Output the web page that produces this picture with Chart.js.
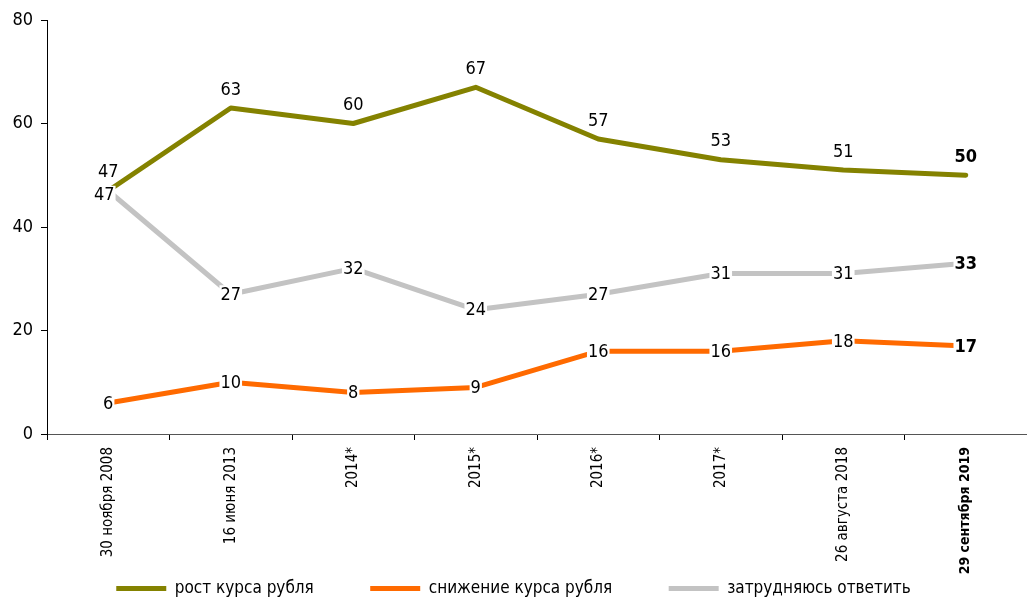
<!DOCTYPE html>
<html>
<head>
<meta charset="utf-8">
<script src="https://cdn.jsdelivr.net/npm/chart.js@4/dist/chart.umd.min.js"></script>
<style>
  html, body { margin: 0; padding: 0; background: #fff; }
  #wrap { width: 1027px; height: 600px; }
</style>
</head>
<body>
<div id="wrap"><canvas id="c" width="1027" height="600"></canvas></div>
<script>
// Данные
const categories = ['30 ноября 2008', '16 июня 2013', '2014*', '2015*', '2016*', '2017*', '26 августа 2018', '29 сентября 2019'];
const rostValues = [47, 63, 60, 67, 57, 53, 51, 50];
const snizhenieValues = [6, 10, 8, 9, 16, 16, 18, 17];
const zatrudnyayusValues = [47, 27, 32, 24, 27, 31, 31, 33];
const yTicks = [0, 20, 40, 60, 80];

const FONT = "'Liberation Sans Narrow', 'DejaVu Sans Condensed', 'Roboto', sans-serif";

// Подписи значений
const valueLabels = {
    id: 'valueLabels',
    afterDatasetsDraw(chart) {
        const ctx = chart.ctx;
        ctx.save();
        ctx.textAlign = 'center';
        ctx.textBaseline = 'middle';
        chart.data.datasets.forEach((ds, i) => {
            const meta = chart.getDatasetMeta(i);
            meta.data.forEach((pt, j) => {
                const last = j === ds.data.length - 1;
                ctx.font = (last ? 'bold ' : '') + '18px ' + FONT;
                const text = String(ds.data[j]);
                let x = pt.x, y = pt.y;
                if (ds.labelPos === 'above') {
                    y -= 19;
                } else {
                    if (j === 0 && i === 2) { x -= 4; y += 4; }
                    const w = ctx.measureText(text).width;
                    ctx.fillStyle = '#fff';
                    ctx.fillRect(x - w / 2 - 1, y - 9, w + 2, 18);
                }
                ctx.fillStyle = '#000';
                ctx.fillText(text, x, y + 1);
            });
        });
        ctx.restore();
    }
};

new Chart(document.getElementById('c'), {
    type: 'line',
    data: {
        labels: categories,
        datasets: [
            {
                label: 'рост курса рубля',
                data: rostValues,
                borderColor: '#848200',
                backgroundColor: '#848200',
                borderWidth: 5,
                labelPos: 'above'
            },
            {
                label: 'снижение курса рубля',
                data: snizhenieValues,
                borderColor: '#ff6a00',
                backgroundColor: '#ff6a00',
                borderWidth: 5,
                labelPos: 'center'
            },
            {
                label: 'затрудняюсь ответить',
                data: zatrudnyayusValues,
                borderColor: '#c3c3c3',
                backgroundColor: '#c3c3c3',
                borderWidth: 5,
                labelPos: 'center'
            }
        ]
    },
    options: {
        responsive: false,
        animation: false,
        layout: { padding: { top: 20, right: 0, left: 0, bottom: -7 } },
        elements: {
            point: { radius: 0, hoverRadius: 0 },
            line: { tension: 0, borderCapStyle: 'round', borderJoinStyle: 'round' }
        },
        plugins: {
            tooltip: { enabled: false },
            legend: {
                position: 'bottom',
                labels: {
                    boxWidth: 50,
                    boxHeight: 5,
                    padding: 3,
                    color: '#000',
                    font: { family: FONT, size: 17 },
                    generateLabels(chart) {
                        return chart.data.datasets.map((ds, i) => ({
                            text: ds.label + (i < 2 ? '           ' : ''),
                            fillStyle: ds.borderColor,
                            strokeStyle: ds.borderColor,
                            lineWidth: 0,
                            datasetIndex: i
                        }));
                    }
                }
            }
        },
        scales: {
            x: {
                offset: true,
                grid: { drawOnChartArea: false, drawTicks: true, tickLength: 6, color: '#000', offset: true },
                border: { color: '#555', width: 1 },
                afterFit(scale) { scale.height = 143; },
                ticks: {
                    minRotation: 90,
                    maxRotation: 90,
                    autoSkip: false,
                    padding: 7,
                    color: '#000',
                    font(ctx) {
                        const last = ctx.index === categories.length - 1;
                        return { family: FONT, size: last ? 14 : 15, weight: last ? 'bold' : 'normal' };
                    }
                }
            },
            y: {
                min: 0,
                max: 80,
                afterFit(scale) { scale.width = 47; },
                afterBuildTicks(scale) { scale.ticks = yTicks.map(v => ({ value: v })); },
                grid: { drawOnChartArea: false, drawTicks: true, tickLength: 6, color: '#000' },
                border: { color: '#000', width: 1 },
                ticks: {
                    padding: 8,
                    color: '#000',
                    font: { family: FONT, size: 18 }
                }
            }
        }
    },
    plugins: [valueLabels]
});
</script>
</body>
</html>
